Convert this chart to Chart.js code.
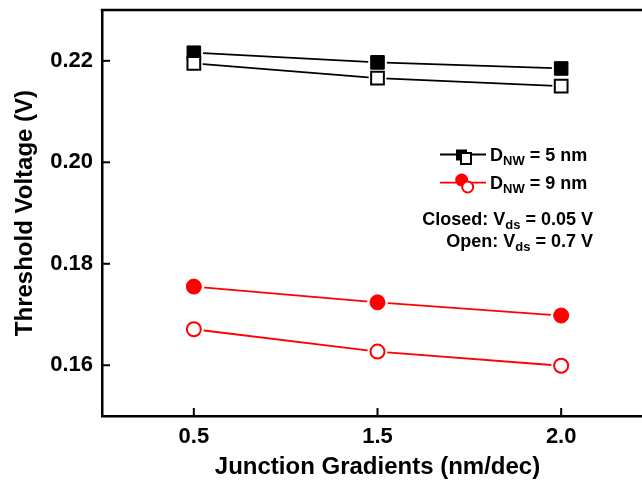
<!DOCTYPE html>
<html lang="en">
<head>
    <meta charset="UTF-8">
    <title>Threshold Voltage vs Junction Gradients</title>
    <script src="https://cdn.jsdelivr.net/npm/chart.js"></script>
    <style>
        * {
            padding: 0;
            margin: 0;
        }
        html, body {
            background: #ffffff;
            overflow: hidden;
        }
        /* canvas is a bit larger than the window: the right edge of the frame is cut off like the original */
        .chart-container {
            width: 680px;
            height: 485px;
            margin-top: -3px;
        }
    </style>
</head>
<body>
    <div class="chart-container">
        <canvas id="myChart" width="680" height="485"></canvas>
    </div>
    <script>
        // data
        const gradients = ['0.5', '1.5', '2.0'];
        const closed5nm = [0.2216, 0.2197, 0.2185];
        const open5nm = [0.2195, 0.2166, 0.2150];
        const closed9nm = [0.1755, 0.1724, 0.1698];
        const open9nm = [0.1671, 0.1627, 0.1599];

        const yMin = 0.15;
        const yMax = 0.23;
        const yStep = 0.01;

        const FONT = '"Liberation Sans", Arial, sans-serif';
        const RED = '#ff0000';
        const BLACK = '#000000';

        // line only / white halo / marker, so the lines stop short of the symbols
        function series(values, color, style, filled) {
            const markerR = style === 'rect' ? (filled ? 9.6 : 9) : (filled ? 7.5 : 7);
            return [
                {
                    data: values,
                    borderColor: color,
                    borderWidth: 1.8,
                    pointRadius: 0,
                    order: 4
                },
                {
                    data: values,
                    showLine: false,
                    pointStyle: style,
                    pointRadius: style === 'rect' ? markerR + 3.5 : markerR + 3,
                    pointBackgroundColor: '#ffffff',
                    pointBorderWidth: 0,
                    order: 3
                },
                {
                    data: values,
                    showLine: false,
                    pointStyle: style,
                    pointRadius: markerR,
                    pointBackgroundColor: filled ? color : '#ffffff',
                    pointBorderColor: color,
                    pointBorderWidth: filled ? 1 : 2,
                    order: filled ? 2 : 1
                }
            ];
        }

        function drawSubText(ctx, parts, x, y, align) {
            const big = 'bold 18px ' + FONT;
            const small = 'bold 13px ' + FONT;
            let total = 0;
            parts.forEach(p => {
                ctx.font = p.sub ? small : big;
                total += ctx.measureText(p.t).width;
            });
            let cx = align === 'right' ? x - total : x;
            ctx.textAlign = 'left';
            ctx.textBaseline = 'alphabetic';
            parts.forEach(p => {
                ctx.font = p.sub ? small : big;
                ctx.fillText(p.t, cx, p.sub ? y + 4 : y);
                cx += ctx.measureText(p.t).width;
            });
        }

        const frameAndLegend = {
            id: 'frameAndLegend',
            afterDraw(chart) {
                const ctx = chart.ctx;
                const a = chart.chartArea;
                const xs = chart.scales.x;
                const ys = chart.scales.y;
                ctx.save();
                ctx.strokeStyle = BLACK;

                // top frame
                ctx.lineWidth = 2.5;
                ctx.beginPath();
                ctx.moveTo(a.left - 1.25, a.top);
                ctx.lineTo(chart.width, a.top);
                ctx.stroke();

                // inward ticks
                ctx.lineWidth = 2;
                ys.ticks.forEach(t => {
                    const py = ys.getPixelForValue(t.value);
                    const len = t.label ? 8 : 5;
                    ctx.beginPath();
                    ctx.moveTo(a.left, py);
                    ctx.lineTo(a.left + len, py);
                    ctx.stroke();
                });
                xs.ticks.forEach((t, i) => {
                    const px = xs.getPixelForTick(i);
                    ctx.beginPath();
                    ctx.moveTo(px, a.bottom);
                    ctx.lineTo(px, a.bottom - 8);
                    ctx.stroke();
                });

                // legend (canvas shifted up 3px by css)
                const dy = 3;
                ctx.lineWidth = 1.8;
                ctx.beginPath();
                ctx.moveTo(440, 154.5 + dy);
                ctx.lineTo(486, 154.5 + dy);
                ctx.stroke();
                ctx.fillStyle = BLACK;
                ctx.fillRect(456, 149.5 + dy, 11, 11);
                ctx.fillStyle = '#ffffff';
                ctx.lineWidth = 2;
                ctx.fillRect(461, 153 + dy, 10, 11);
                ctx.strokeRect(461, 153 + dy, 10, 11);

                ctx.strokeStyle = RED;
                ctx.lineWidth = 1.8;
                ctx.beginPath();
                ctx.moveTo(440, 182.7 + dy);
                ctx.lineTo(486, 182.7 + dy);
                ctx.stroke();
                ctx.fillStyle = RED;
                ctx.beginPath();
                ctx.arc(461.7, 180 + dy, 6.5, 0, Math.PI * 2);
                ctx.fill();
                ctx.fillStyle = '#ffffff';
                ctx.lineWidth = 2;
                ctx.beginPath();
                ctx.arc(467.7, 187 + dy, 5.5, 0, Math.PI * 2);
                ctx.fill();
                ctx.stroke();

                ctx.fillStyle = BLACK;
                drawSubText(ctx, [{t: 'D'}, {t: 'NW', sub: true}, {t: ' = 5 nm'}], 490, 161 + dy, 'left');
                drawSubText(ctx, [{t: 'D'}, {t: 'NW', sub: true}, {t: ' = 9 nm'}], 490, 189 + dy, 'left');
                drawSubText(ctx, [{t: 'Closed: V'}, {t: 'ds', sub: true}, {t: ' = 0.05 V'}], 593, 225 + dy, 'right');
                drawSubText(ctx, [{t: 'Open: V'}, {t: 'ds', sub: true}, {t: ' = 0.7 V'}], 593, 247 + dy, 'right');
                ctx.restore();
            }
        };

        const ctx = document.getElementById('myChart').getContext('2d');
        new Chart(ctx, {
            type: 'line',
            data: {
                labels: gradients,
                datasets: [
                    ...series(closed5nm, BLACK, 'rect', true),
                    ...series(open5nm, BLACK, 'rect', false),
                    ...series(closed9nm, RED, 'circle', true),
                    ...series(open9nm, RED, 'circle', false)
                ]
            },
            options: {
                responsive: false,
                animation: false,
                layout: {
                    padding: { left: 0, right: 27, top: 10, bottom: 0 }
                },
                plugins: {
                    legend: { display: false },
                    tooltip: { enabled: false }
                },
                scales: {
                    x: {
                        type: 'category',
                        offset: true,
                        afterFit: s => {
                            s.height = 66;
                            s.paddingLeft = 0;
                            s.paddingRight = 0;
                        },
                        grid: { display: false, drawTicks: false },
                        border: { display: true, color: BLACK, width: 2.5 },
                        ticks: {
                            color: BLACK,
                            padding: 8,
                            font: { family: FONT, size: 22, weight: 'bold' }
                        },
                        title: {
                            display: true,
                            text: 'Junction Gradients (nm/dec)',
                            color: BLACK,
                            padding: { top: 0, bottom: 0 },
                            font: { family: FONT, size: 24, weight: 'bold' }
                        }
                    },
                    y: {
                        min: yMin,
                        max: yMax,
                        afterFit: s => {
                            s.width = 102;
                            s.paddingTop = 0;
                            s.paddingBottom = 0;
                        },
                        grid: { display: false, drawTicks: false },
                        border: { display: true, color: BLACK, width: 2.5 },
                        ticks: {
                            stepSize: yStep,
                            color: BLACK,
                            padding: 9,
                            font: { family: FONT, size: 22, weight: 'bold', lineHeight: 0.8 },
                            callback: v => (Math.round(v * 100) % 2 === 0 ? v.toFixed(2) : null)
                        },
                        title: {
                            display: true,
                            text: 'Threshold Voltage (V)',
                            color: BLACK,
                            padding: { top: 11, bottom: 0 },
                            font: { family: FONT, size: 24, weight: 'bold' }
                        }
                    }
                }
            },
            plugins: [frameAndLegend]
        });
    </script>
</body>
</html>
